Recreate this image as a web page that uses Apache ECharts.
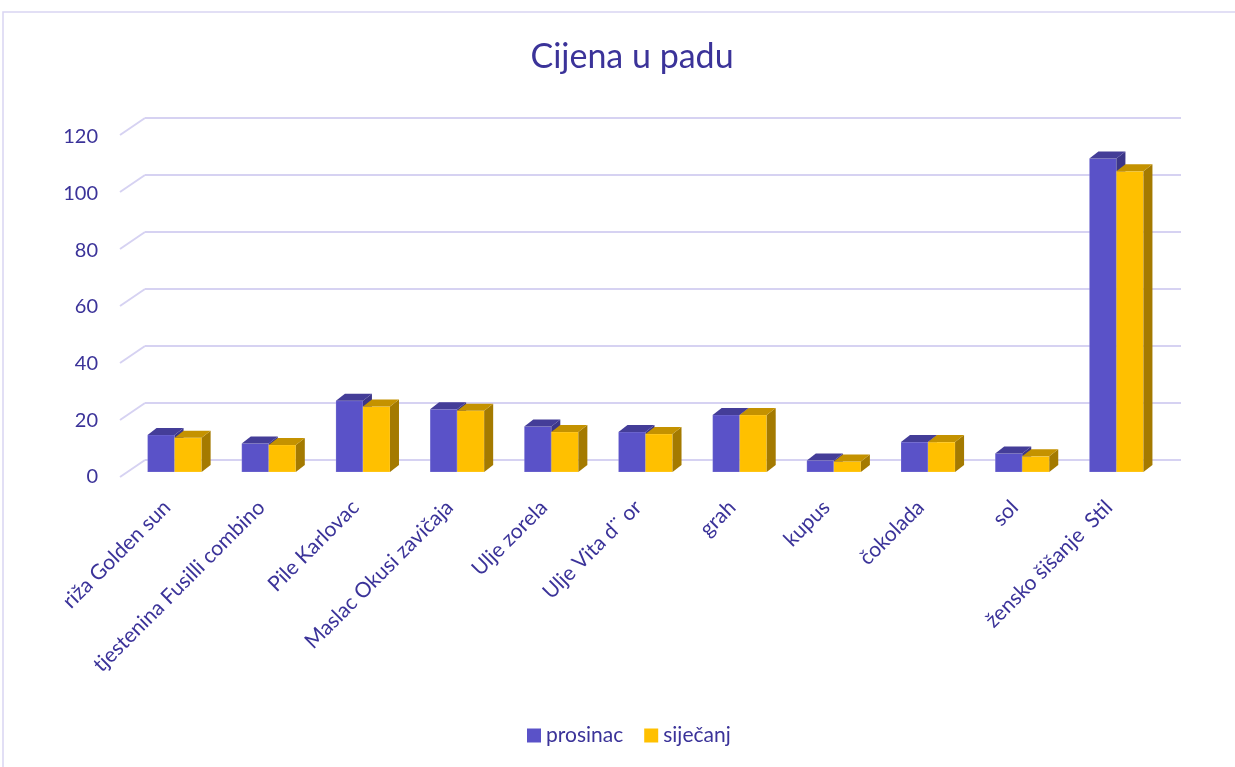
<!DOCTYPE html>
<html>
<head>
<meta charset="utf-8">
<title>Cijena u padu</title>
<script src="https://cdn.jsdelivr.net/npm/echarts@6/dist/echarts.min.js"></script>
<style>
html, body { margin: 0; padding: 0; background: #fff; }
#chart { width: 1235px; height: 767px; }
</style>
</head>
<body>
<div id="chart"></div>
<script>
const categories = ['riža Golden sun', 'tjestenina Fusilli combino', 'Pile Karlovac', 'Maslac Okusi zavičaja', 'Ulje zorela', 'Ulje Vita d¨ or', 'grah', 'kupus', 'čokolada', 'sol', 'žensko šišanje  Stil']
const prosinac = [13, 10, 25, 22, 16, 14, 20, 4, 10.5, 6.5, 110]
const sijecanj = [12, 9.5, 23, 21.5, 14, 13.3, 20, 3.7, 10.5, 5.5, 105.5]
const yTicks = [0, 20, 40, 60, 80, 100, 120]

const textColor = '#3B3399'
const gridColor = '#D6D2F2'
const font = 'Lato, "Open Sans", sans-serif'

// fake 3d: bars sit in front of the back wall, tops/sides recede up-right
const FRONT = [-17.5, 12]
const DEPTH = [9, -7]

// slot 0 = left bar of the pair, slot 1 = right bar
const barRenderer = (slot, front, topColor, sideColor) => (params, api) => {
  const idx = api.value(0)
  const top = api.coord([idx, api.value(1)])
  const base = api.coord([idx, 0])
  const w = api.size([1, 0])[0] * 0.287
  const x0 = top[0] + FRONT[0] + (slot - 1) * w
  const y0 = top[1] + FRONT[1]
  const y1 = base[1] + FRONT[1]
  const [dx, dy] = DEPTH
  return {
    type: 'group',
    children: [{
      type: 'rect',
      shape: { x: x0, y: y0, width: w, height: y1 - y0 },
      style: { fill: front, stroke: 'rgba(255,255,255,0.35)', lineWidth: 0.5 },
    }, {
      type: 'polygon',
      shape: { points: [[x0 + w, y0], [x0 + w + dx, y0 + dy], [x0 + w + dx, y1 + dy], [x0 + w, y1]] },
      style: { fill: sideColor },
    }, {
      type: 'polygon',
      shape: { points: [[x0, y0], [x0 + w, y0], [x0 + w + dx, y0 + dy], [x0 + dx, y0 + dy]] },
      style: { fill: topColor },
    }],
  }
}

const chart = echarts.init(document.getElementById('chart'))
chart.setOption({
  animation: false,
  title: {
    text: 'Cijena u padu',
    left: 627,
    textAlign: 'center',
    top: 35,
    textStyle: { fontFamily: font, fontSize: 34, fontWeight: 'normal', color: textColor },
  },
  graphic: [{
    type: 'rect',
    shape: { x: 3, y: 12, width: 1300, height: 800 },
    style: { fill: null, stroke: '#D9D5F2', lineWidth: 1.5 },
    silent: true,
  }],
  legend: {
    data: ['prosinac', 'siječanj'],
    left: 522,
    top: 720,
    icon: 'rect',
    itemWidth: 14,
    itemHeight: 14,
    itemGap: 21,
    textStyle: { fontFamily: font, fontSize: 21, color: textColor },
  },
  grid: [
    { left: 145, top: 118, width: 1036, height: 342 }, // back wall
    { left: 120, top: 137, width: 1036, height: 340 }, // front edge, labels
  ],
  xAxis: [{
    type: 'category',
    data: categories,
    gridIndex: 0,
    axisLine: { show: false },
    axisTick: { show: false },
    axisLabel: { show: false },
  }, {
    type: 'category',
    data: categories,
    gridIndex: 1,
    axisLine: { show: false },
    axisTick: { show: false },
    axisLabel: {
      interval: 0,
      rotate: 45,
      margin: 27,
      fontFamily: font,
      fontSize: 21,
      color: textColor,
    },
  }],
  yAxis: [{
    type: 'value',
    gridIndex: 0,
    min: 0,
    max: 120,
    interval: 20,
    axisLabel: { show: false },
    splitLine: { lineStyle: { color: gridColor, width: 2 } },
  }, {
    type: 'value',
    gridIndex: 1,
    min: 0,
    max: 120,
    interval: 20,
    splitLine: { show: false },
    axisLabel: { margin: 22, fontFamily: font, fontSize: 20, color: textColor },
  }],
  series: [{
    name: 'walls',
    type: 'custom',
    silent: true,
    xAxisIndex: 0,
    yAxisIndex: 0,
    data: yTicks.map((v) => [0, v]),
    renderItem: (params, api) => {
      const p = api.coord([0, api.value(1)])
      const x = p[0] - api.size([1, 0])[0] / 2
      return {
        type: 'line',
        shape: { x1: x, y1: p[1], x2: x - 25, y2: p[1] + 17 },
        style: { stroke: gridColor, lineWidth: 2 },
      }
    },
  }, {
    name: 'prosinac',
    type: 'custom',
    xAxisIndex: 0,
    yAxisIndex: 0,
    itemStyle: { color: '#5A52C8' },
    data: prosinac.map((v, i) => [i, v]),
    renderItem: barRenderer(0, '#5A52C8', '#443D98', '#3C3688'),
  }, {
    name: 'siječanj',
    type: 'custom',
    xAxisIndex: 0,
    yAxisIndex: 0,
    itemStyle: { color: '#FFC000' },
    data: sijecanj.map((v, i) => [i, v]),
    renderItem: barRenderer(1, '#FFC000', '#C49200', '#A47A00'),
  }],
})
</script>
</body>
</html>
